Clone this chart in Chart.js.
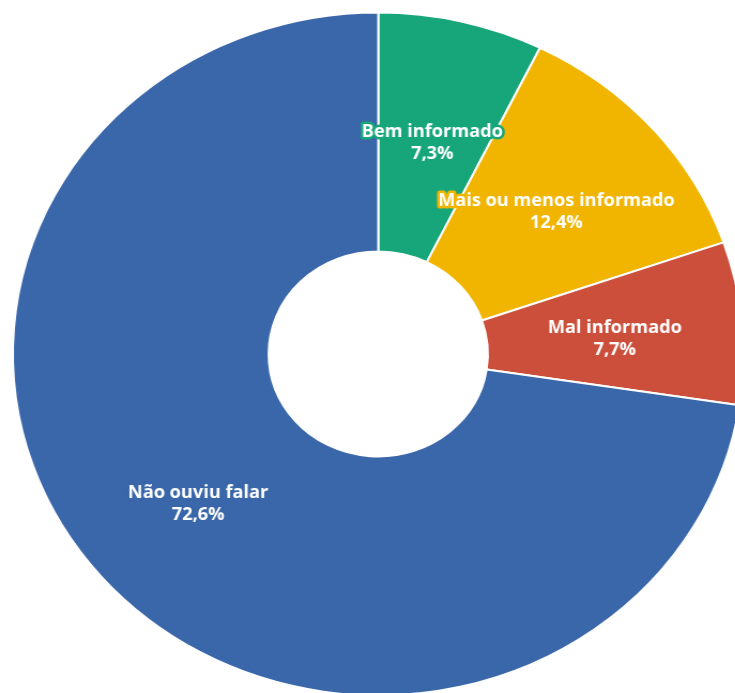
<!DOCTYPE html>
<html>
<head>
<meta charset="utf-8">
<script src="https://cdn.jsdelivr.net/npm/chart.js@4"></script>
<style>
  html, body { margin: 0; padding: 0; background: #fff; }
  #frame { width: 735px; height: 693px; overflow: hidden; position: relative; }
  #wrap { position: absolute; left: 0; top: 0; width: 707px; height: 708px;
          transform: scaleX(1.07); transform-origin: 0 0; }
</style>
</head>
<body>
<div id="frame">
  <div id="wrap"><canvas id="pieChart" width="707" height="708"></canvas></div>
</div>
<script>
const categories = ["Bem informado", "Mais ou menos informado", "Mal informado", "Não ouviu falar"];
const shares = [7.3, 12.4, 7.7, 72.6];
const colors = ['#17a67a', '#f1b500', '#cb4f3b', '#3a67aa'];

// draws the two-line label inside each slice
const sliceLabels = {
    id: 'sliceLabels',
    afterDatasetsDraw(chart) {
        const c = chart.ctx;
        const arcs = chart.getDatasetMeta(0).data;
        c.save();
        c.font = 'bold 17px "Open Sans"';
        c.textAlign = 'center';
        c.textBaseline = 'middle';
        c.lineJoin = 'round';
        arcs.forEach((arc, i) => {
            const p = arc.getProps(['x', 'y', 'startAngle', 'endAngle', 'outerRadius'], true);
            const mid = (p.startAngle + p.endAngle) / 2;
            const r = p.outerRadius * 0.65;
            const x = p.x + Math.cos(mid) * r;
            const y = p.y + Math.sin(mid) * r + 5;
            const lines = [categories[i], shares[i].toFixed(1).replace('.', ',') + '%'];
            lines.forEach((t, k) => {
                const ly = y + (k - 0.5) * 22;
                c.lineWidth = 5;
                c.strokeStyle = colors[i];
                c.strokeText(t, x, ly);
                c.fillStyle = '#fff';
                c.fillText(t, x, ly);
            });
        });
        c.restore();
    }
};

new Chart(document.getElementById('pieChart'), {
    type: 'doughnut',
    data: {
        labels: categories,
        datasets: [{
            data: shares,
            backgroundColor: colors,
            borderColor: '#ffffff',
            borderWidth: 2
        }]
    },
    options: {
        responsive: false,
        animation: false,
        cutout: '30%',
        layout: { padding: 11 },
        events: [],
        plugins: {
            legend: { display: false },
            tooltip: { enabled: false }
        }
    },
    plugins: [sliceLabels]
});
</script>
</body>
</html>
